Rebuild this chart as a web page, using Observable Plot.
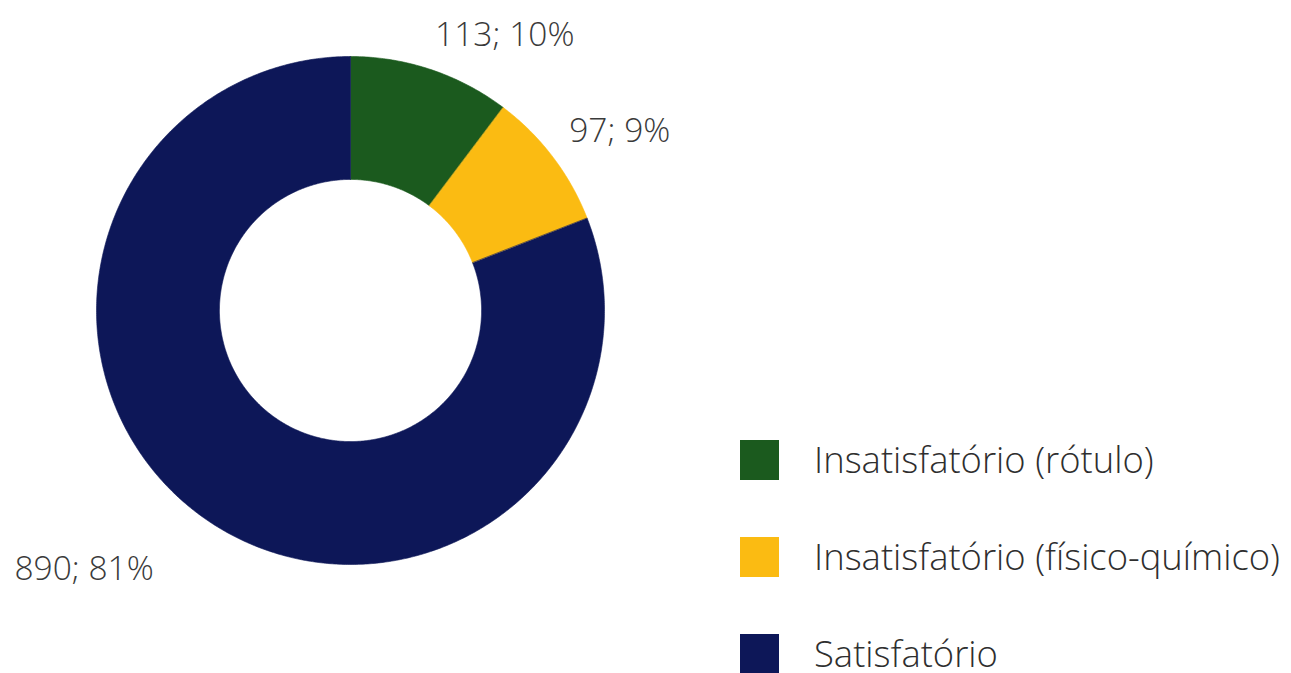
<!DOCTYPE html>
<html><head><meta charset="utf-8">
<script src="https://cdn.jsdelivr.net/npm/d3@7"></script>
<script src="https://cdn.jsdelivr.net/npm/@observablehq/plot@0.6"></script>
<style>
body{margin:0;background:#fff;font-family:"Open Sans",sans-serif;}
#wrap{position:relative;width:1291px;height:673px;overflow:hidden;}
#legend{position:absolute;left:740px;top:411px;}
.item{display:flex;align-items:center;height:97px;}
.sw{width:39px;height:40px;margin-right:35px;}
.lab{font-size:36.4px;font-weight:300;color:#2e2e2e;white-space:nowrap;line-height:0.9;}
</style></head><body>
<div id="wrap"><div id="chart"></div><div id="legend"></div></div>
<script>
const categories = ["Insatisfatório (rótulo)", "Insatisfatório (físico-químico)", "Satisfatório"];
const counts = [113, 97, 890];
const percents = [10, 9, 81];
const colors = ["#1b5a1e", "#fbbb12", "#0d1758"];

const innerRatio = 0.516;
const data = categories.map((c, i) => ({cat: c, count: counts[i], pct: percents[i]}));
const arcs = d3.pie().sort(null).value(d => d.count)(data);

// polygon vertices of each ring slice in unit coordinates
const pts = [];
arcs.forEach(a => {
  const n = Math.max(2, Math.ceil((a.endAngle - a.startAngle) / (Math.PI / 360)));
  for (let k = 0; k <= n; k++) {
    const t = a.startAngle + (a.endAngle - a.startAngle) * k / n;
    pts.push({cat: a.data.cat, x: Math.sin(t), y: Math.cos(t)});
  }
  for (let k = n; k >= 0; k--) {
    const t = a.startAngle + (a.endAngle - a.startAngle) * k / n;
    pts.push({cat: a.data.cat, x: innerRatio * Math.sin(t), y: innerRatio * Math.cos(t)});
  }
});

const labels = arcs.map(a => {
  const m = (a.startAngle + a.endAngle) / 2;
  return {cat: a.data.cat, text: `${a.data.count}; ${a.data.pct}%`, x: 1.1 * Math.sin(m), y: 1.1 * Math.cos(m), right: Math.sin(m) >= 0};
});

const chart = Plot.plot({
  width: 1291, height: 673,
  marginLeft: 96, marginRight: 687, marginTop: 56, marginBottom: 109,
  x: {domain: [-1, 1], axis: null},
  y: {domain: [-1, 1], axis: null},
  color: {domain: categories, range: colors},
  style: {fontFamily: "'Open Sans', sans-serif", background: "transparent", overflow: "visible"},
  marks: [
    Plot.line(pts, {x: "x", y: "y", z: "cat", fill: "cat", stroke: "cat", strokeWidth: 0.6, curve: "linear-closed"}),
    Plot.text(labels.filter(d => d.right), {x: "x", y: "y", text: "text", textAnchor: "start", lineAnchor: "bottom", dx: -4, fontSize: 33.5, fontWeight: 300, fill: "#3a3a3a"}),
    Plot.text(labels.filter(d => !d.right), {x: "x", y: "y", text: "text", textAnchor: "end", lineAnchor: "top", dx: -39, dy: 15, fontSize: 33.5, fontWeight: 300, fill: "#3a3a3a"})
  ]
});
document.getElementById("chart").append(chart);

const legend = d3.select("#legend");
categories.forEach((c, i) => {
  const it = legend.append("div").attr("class", "item");
  it.append("div").attr("class", "sw").style("background", colors[i]);
  it.append("div").attr("class", "lab").text(c);
});
</script>
</body></html>
